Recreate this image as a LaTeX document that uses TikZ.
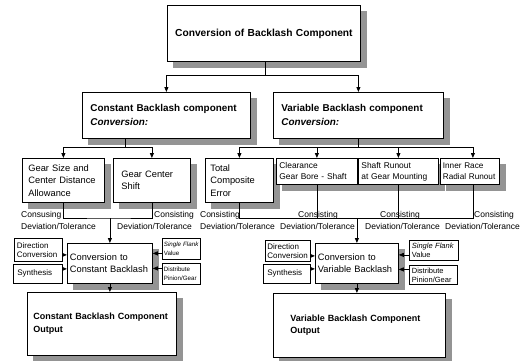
\documentclass[tikz,border=0pt]{standalone}
\usepackage{fontspec}
\setmainfont{Liberation Sans}
\usetikzlibrary{arrows.meta,backgrounds}

\newcommand\fsz[2]{\fontsize{#1}{#2}\selectfont}

\begin{document}
\begin{tikzpicture}[x=1pt,y=-1pt,
  box/.style={draw,line width=0.8pt,fill=white,anchor=north west,align=left,inner ysep=1pt},
  shadowfill/.style={fill=black!42},
  arr/.style={line width=0.8pt,-{Triangle[length=5pt,width=4pt]}},
  link/.style={line width=0.8pt},
  lbl/.style={font=\fsz{8.5}{10},inner sep=0pt},
]
\useasboundingbox (0,0) rectangle (529,360);

% top level
\node[box,align=center,minimum width=193pt,minimum height=56pt,inner xsep=5pt,text width=183pt,
      font=\bfseries\fsz{10.2}{12}] (top) at (167,5) {Conversion of Backlash Component};

% second level
\node[box,minimum width=168pt,minimum height=46pt,inner xsep=8pt,text width=152pt,
      font=\bfseries\fsz{9.9}{14}] (cbc) at (82,92) {Constant Backlash component\\\textit{Conversion:}};
\node[box,minimum width=170pt,minimum height=46pt,inner xsep=8pt,text width=154pt,
      font=\bfseries\fsz{9.9}{14}] (vbc) at (273,92) {Variable Backlash component\\\textit{Conversion:}};

% third level, constant side
\node[box,minimum width=82pt,minimum height=44pt,inner xsep=6pt,text width=70pt,
      font=\fsz{9.3}{12.5}] (gs) at (22,158) {Gear Size and\\Center Distance\\Allowance};
\node[box,minimum width=77pt,minimum height=44pt,inner xsep=8pt,text width=61pt,
      font=\fsz{9.3}{12.5}] (gcs) at (113,158) {Gear Center\\Shift};

% third level, variable side
\node[box,minimum width=68pt,minimum height=44pt,inner xsep=5pt,text width=58pt,
      font=\fsz{9.3}{12.5}] (tce) at (205,158) {Total\\Composite\\Error};
\node[box,minimum width=81pt,minimum height=26pt,inner xsep=3pt,text width=75pt,
      font=\fsz{8.4}{11}] (cgb) at (276,158) {Clearance\\Gear Bore - Shaft};
\node[box,minimum width=80pt,minimum height=26pt,inner xsep=3pt,text width=74pt,
      font=\fsz{8.4}{11}] (srm) at (358,158) {Shaft Runout\\at Gear Mounting};
\node[box,minimum width=59pt,minimum height=26pt,inner xsep=2.5pt,text width=54pt,
      font=\fsz{8.2}{11}] (irr) at (440,158) {Inner Race\\Radial Runout};

% conversion blocks
\node[box,minimum width=85pt,minimum height=40pt,inner xsep=2.5pt,text width=80pt,
      font=\fsz{9.3}{11.5}] (ccb) at (67,243) {Conversion to\\Constant Backlash};
\node[box,minimum width=83pt,minimum height=40pt,inner xsep=2.5pt,text width=78pt,
      font=\fsz{9.3}{11.5}] (vcb) at (315,243) {Conversion to\\Variable Backlash};

% side inputs, constant side
\node[box,minimum width=48pt,minimum height=23pt,inner xsep=2.5pt,text width=43pt,
      font=\fsz{8}{9.5}] (dc1) at (14,238) {Direction\\Conversion};
\node[box,minimum width=49pt,minimum height=19pt,inner xsep=4pt,text width=41pt,
      font=\fsz{8}{9.5}] (syn1) at (13,264) {Synthesis};
\node[box,minimum width=38pt,minimum height=21pt,inner xsep=1.5pt,text width=35pt,
      font=\fsz{6.2}{8.5}] (sfv1) at (162,238) {\textit{Single Flank}\\Value};
\node[box,minimum width=38pt,minimum height=21pt,inner xsep=1.5pt,text width=35pt,
      font=\fsz{6.2}{8.5}] (dpg1) at (162,263) {Distribute\\Pinion/Gear};

% side inputs, variable side
\node[box,minimum width=45pt,minimum height=21pt,inner xsep=2pt,text width=41pt,
      font=\fsz{8}{9.5}] (dc2) at (265,240) {Direction\\Conversion};
\node[box,minimum width=47pt,minimum height=19pt,inner xsep=4pt,text width=39pt,
      font=\fsz{8}{9.5}] (syn2) at (263,264) {Synthesis};
\node[box,minimum width=49pt,minimum height=20pt,inner xsep=2.5pt,text width=44pt,
      font=\fsz{7.5}{9}] (sfv2) at (409,240) {\textit{Single Flank}\\Value};
\node[box,minimum width=48pt,minimum height=19pt,inner xsep=2.5pt,text width=43pt,
      font=\fsz{7.5}{9}] (dpg2) at (409,265) {Distribute\\Pinion/Gear};

% outputs
\node[box,minimum width=149pt,minimum height=63pt,inner xsep=6pt,text width=137pt,
      font=\bfseries\fsz{9}{12.5}] (out1) at (27,292) {Constant Backlash Component\\Output};
\node[box,minimum width=172pt,minimum height=64pt,inner xsep=17pt,text width=138pt,
      font=\bfseries\fsz{9}{12.5}] (out2) at (273,293) {Variable Backlash Component\\Output};

% drop shadows behind the main boxes
\begin{pgfonlayer}{background}
\foreach \n in {top,cbc,vbc,gs,gcs,tce,cgb,srm,irr,ccb,vcb,out1,out2}
  \fill[shadowfill] ([xshift=6pt,yshift=-6pt]\n.south west) rectangle ([xshift=6pt,yshift=-6pt]\n.north east);
\end{pgfonlayer}

% top fan-out
\coordinate (j1) at (265,75);
\draw[link] (top.south -| j1) -- (j1);
\draw[arr] (j1) -| (cbc.north);
\draw[arr] (j1) -| (vbc.north);

% constant fan-out
\coordinate (j2) at (125,147);
\draw[link] (cbc.south -| j2) -- (j2);
\draw[arr] (j2) -| (gs.north);
\draw[arr] (j2) -| (gcs.north);

% variable fan-out
\draw[link] (vbc.south) -- ++(0,9) coordinate (j3);
\draw[arr] (j3) -| (tce.north);
\draw[arr] (j3) -| (cgb.north);
\draw[arr] (j3) -| (srm.north);
\draw[arr] (j3) -| ([xshift=3pt]irr.north);

% constant merge
\path (ccb.north) ++(0,-25) coordinate (j4);
\draw[link] (gs.south) |- (j4) -| (gcs.south);
\draw[arr] (j4) -- (ccb.north);

% variable merge
\path (vcb.north) ++(0,-25) coordinate (j5);
\draw[link] (tce.south) |- ([xshift=3pt]irr.south |- j5) -- ([xshift=3pt]irr.south);
\draw[link] (cgb.south) -- (cgb.south |- j5);
\draw[link] (srm.south) -- (srm.south |- j5);
\draw[arr] (j5) -- (vcb.north);

% deviation labels
\node[lbl,anchor=base west] (l1a) at (21,217) {Consusing};
\node[lbl,anchor=base west] (l1b) at (21,229) {Deviation/Tolerance};
\node[lbl,anchor=base west] (l2a) at (154,217) {Consisting};
\node[lbl,anchor=base west] (l2b) at (117,229) {Deviation/Tolerance};
\node[lbl,anchor=base east] (l3a) at (240,217) {Consisting};
\node[lbl,anchor=base west] (l3b) at (200,229) {Deviation/Tolerance};
\node[lbl,anchor=base] (l4a) at (318,217) {Consisting};
\node[lbl,anchor=base west] (l4b) at (280,229) {Deviation/Tolerance};
\node[lbl,anchor=base] (l5a) at (400,217) {Consisting};
\node[lbl,anchor=base west] (l5b) at (365,229) {Deviation/Tolerance};
\node[lbl,anchor=base west] (l6a) at (474,217) {Consisting};
\node[lbl,anchor=base west] (l6b) at (445,229) {Deviation/Tolerance};

% side inputs into the conversion blocks
\draw[arr] ([yshift=-5pt]dc1.east) -- ([yshift=-5pt]dc1.east -| ccb.west);
\draw[arr] ([yshift=5pt]syn1.east) -- ([yshift=5pt]syn1.east -| ccb.west);
\draw[arr] ([yshift=-4.5pt]sfv1.west) -- ([yshift=-4.5pt]sfv1.west -| ccb.east);
\draw[arr] ([yshift=5.5pt]dpg1.west) -- ([yshift=5.5pt]dpg1.west -| ccb.east);
\draw[arr] ([yshift=-5pt]dc2.east) -- ([yshift=-5pt]dc2.east -| vcb.west);
\draw[arr] ([yshift=5pt]syn2.east) -- ([yshift=5pt]syn2.east -| vcb.west);
\draw[arr] ([yshift=-4.5pt]sfv2.west) -- ([yshift=-4.5pt]sfv2.west -| vcb.east);
\draw[arr] ([yshift=5.5pt]dpg2.west) -- ([yshift=5.5pt]dpg2.west -| vcb.east);

% outputs
\draw[arr] (ccb.south) -- (ccb.south |- out1.north);
\draw[arr] (vcb.south) -- (vcb.south |- out2.north);
\end{tikzpicture}
\end{document}
